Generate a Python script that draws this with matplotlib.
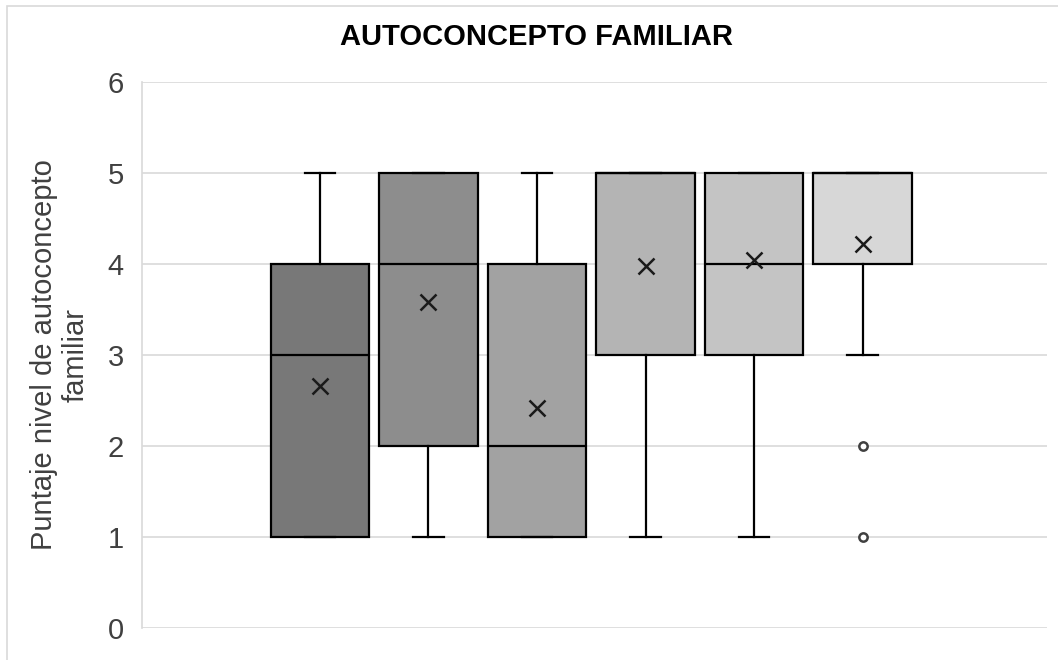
import matplotlib
matplotlib.use("Agg")
import matplotlib.pyplot as plt
from matplotlib.patches import Rectangle

plt.rcParams['font.family'] = ['Liberation Sans', 'DejaVu Sans']

# one box per group
groups = ['G1', 'G2', 'G3', 'G4', 'G5', 'G6']
whislo = [1, 1, 1, 1, 1, 3]
q1 = [1, 2, 1, 3, 3, 4]
med = [3, 4, 2, 5, 4, 5]
q3 = [4, 5, 4, 5, 5, 5]
whishi = [5, 5, 5, 5, 5, 5]
means = [2.66, 3.58, 2.42, 3.98, 4.04, 4.22]
fliers = [[], [], [], [], [], [2, 1]]
box_colors = ['#787878', '#8d8d8d', '#a2a2a2', '#b4b4b4', '#c4c4c4', '#d7d7d7']

stats = []
for i, g in enumerate(groups):
    stats.append(dict(label=g, whislo=whislo[i], q1=q1[i], med=med[i], q3=q3[i],
                      whishi=whishi[i], mean=means[i], fliers=fliers[i]))

fig = plt.figure(figsize=(10.58, 6.6), dpi=100)
ax = fig.add_axes([142 / 1058, 32 / 660, 905 / 1058, 546 / 660])

# outer chart border (cut off at right and bottom)
fig.patches.append(Rectangle((7 / 1058, -0.1), 1.2, 1.1 - 6 / 660, transform=fig.transFigure,
                             fill=False, edgecolor='#d9d9d9', lw=1.2, zorder=0))

positions = list(range(1, len(groups) + 1))
bp = ax.bxp(stats, positions=positions, widths=0.91, patch_artist=True, showmeans=True,
            boxprops=dict(edgecolor='black', linewidth=1.6),
            medianprops=dict(color='black', linewidth=1.6),
            whiskerprops=dict(color='black', linewidth=1.6),
            capprops=dict(color='black', linewidth=1.6),
            capwidths=0.28,
            meanprops=dict(marker='x', markeredgecolor='#1a1a1a', markersize=12, markeredgewidth=1.8),
            flierprops=dict(marker='o', markerfacecolor='white', markeredgecolor='#404040',
                            markersize=6, markeredgewidth=1.8))
for patch, c in zip(bp['boxes'], box_colors):
    patch.set_facecolor(c)

ax.set_xlim(-0.64, 7.70)
ax.set_ylim(0, 6)
ax.set_yticks([0, 1, 2, 3, 4, 5, 6])
ax.set_xticks([])
ax.yaxis.grid(True, color='#d9d9d9', linewidth=1.2)
ax.set_axisbelow(True)
for s in ['top', 'right', 'bottom']:
    ax.spines[s].set_visible(False)
ax.spines['left'].set_color('#d9d9d9')
ax.spines['left'].set_linewidth(1.2)
ax.tick_params(axis='y', length=0, pad=13, labelsize=21, labelcolor='#404040')

ax.set_ylabel('Puntaje nivel de autoconcepto\nfamiliar', fontsize=21, color='#404040',
              linespacing=1.15, labelpad=13)
fig.text(536 / 1058, 1 - 37 / 660, 'AUTOCONCEPTO FAMILIAR', ha='center', va='center',
         fontsize=21, fontweight='bold', color='black')

fig.savefig('out.png', dpi=100)
